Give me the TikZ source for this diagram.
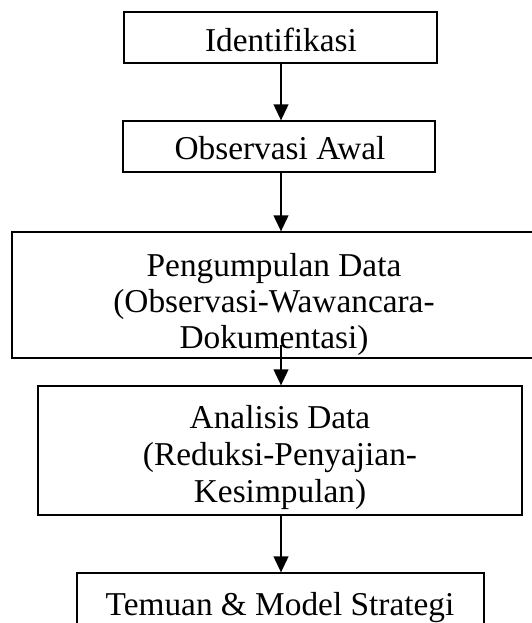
\documentclass[tikz,border=0pt]{standalone}
\usepackage{fontspec}
\setmainfont{Liberation Serif}
\usetikzlibrary{arrows.meta}
\begin{document}
\begin{tikzpicture}[x=0.75pt,y=-0.75pt,
  box/.style={draw=black,line width=0.9pt,inner sep=0pt,fill=none},
  lbl/.style={inner sep=0pt,anchor=base,font=\fontsize{25pt}{30pt}\selectfont},
  arr/.style={line width=1.5pt,-{Triangle[length=12pt,width=11pt]}}]
\useasboundingbox (0,0) rectangle (531,623);
% boxes
\node[box,minimum width={313*0.75pt},minimum height={51*0.75pt}] (b1) at (280.5,37.5) {};
\node[box,minimum width={312*0.75pt},minimum height={51*0.75pt}] (b2) at (279,146.5) {};
\node[box,minimum width={524*0.75pt},minimum height={126*0.75pt}] (b3) at (274,295) {};
\node[box,minimum width={484*0.75pt},minimum height={129*0.75pt}] (b4) at (280,450.5) {};
\node[box,minimum width={407*0.75pt},minimum height={66*0.75pt}] (b5) at (280.5,606) {};
% texts
\node[lbl] (t1) at (281,52) {Identifikasi};
\node[lbl] (t2) at (280,160) {Observasi Awal};
\node[lbl] (t3a) at (274,276) {Pengumpulan Data};
\node[lbl] (t3b) at (274,312) {(Observasi-Wawancara-};
\node[lbl] (t3c) at (274,348) {Dokumentasi)};
\node[lbl] (t4a) at (280,428) {Analisis Data};
\node[lbl] (t4b) at (280,465) {(Reduksi-Penyajian-};
\node[lbl] (t4c) at (280,502) {Kesimpulan)};
\node[lbl] (t5) at (280,615) {Temuan \& Model Strategi};
% arrows
\coordinate (ax) at (281,0);
\coordinate (a3s) at (281,345);
\draw[arr] (b1.south -| ax) -- (b2.north -| ax);
\draw[arr] (b2.south -| ax) -- (b3.north -| ax);
\draw[arr] (a3s) -- (b4.north -| ax);
\draw[arr] (b4.south -| ax) -- (b5.north -| ax);
\end{tikzpicture}
\end{document}
